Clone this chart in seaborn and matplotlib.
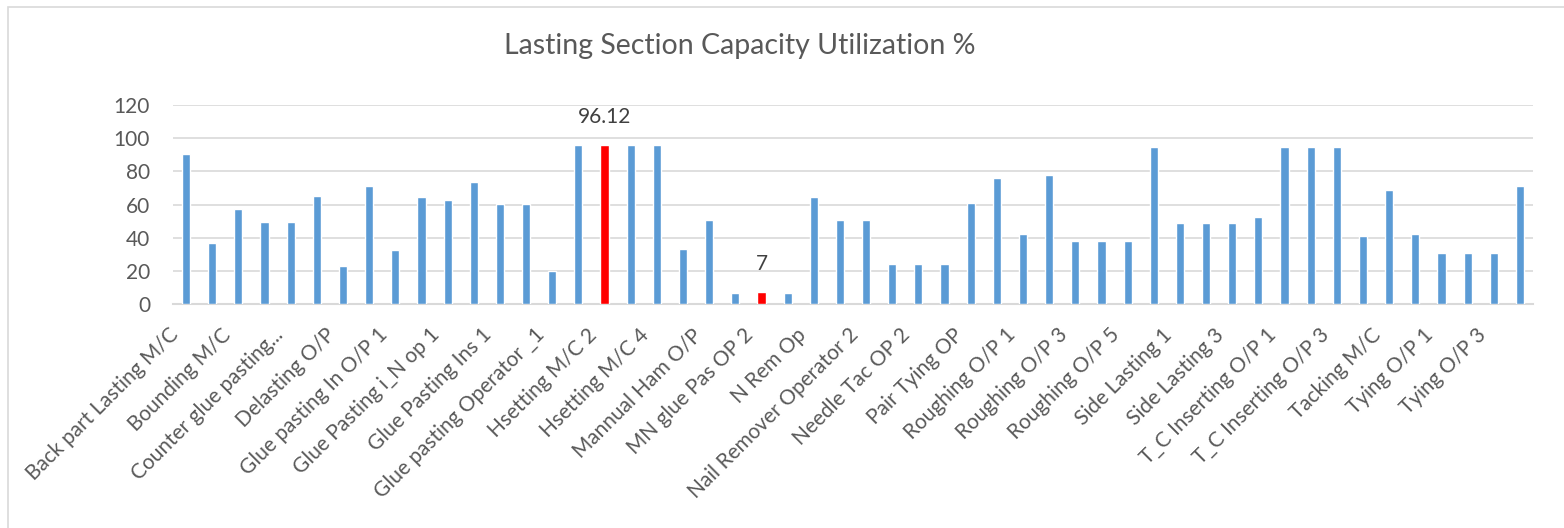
import matplotlib
matplotlib.use("Agg")
import matplotlib.pyplot as plt
import matplotlib.transforms as mtransforms
from matplotlib.patches import Rectangle
import pandas as pd
import seaborn as sns

# Lasting section work stations (alphabetical) and their capacity utilization (%)
stations = [
    "Back part Lasting M/C", "Back part Lasting O/P",
    "Bounding M/C", "Bounding O/P",
    "Counter glue pasting...", "Counter glue pasting O/P",
    "Delasting O/P", "Delasting O/P 2",
    "Glue pasting In O/P 1", "Glue pasting In O/P 2",
    "Glue Pasting i_N op 1", "Glue Pasting i_N op 2",
    "Glue Pasting Ins 1", "Glue Pasting Ins 2",
    "Glue pasting Operator _1", "Hsetting M/C 1",
    "Hsetting M/C 2", "Hsetting M/C 3",
    "Hsetting M/C 4", "Mannual Ham M/C",
    "Mannual Ham O/P", "MN glue Pas OP 1",
    "MN glue Pas OP 2", "MN glue Pas OP 3",
    "N Rem Op", "Nail Remover Operator 1",
    "Nail Remover Operator 2", "Needle Tac OP 1",
    "Needle Tac OP 2", "Needle Tac OP 3",
    "Pair Tying OP", "Pulling Over M/C",
    "Roughing O/P 1", "Roughing O/P 2",
    "Roughing O/P 3", "Roughing O/P 4",
    "Roughing O/P 5", "Scouring M/C",
    "Side Lasting 1", "Side Lasting 2",
    "Side Lasting 3", "Side Lasting 4",
    "T_C Inserting O/P 1", "T_C Inserting O/P 2",
    "T_C Inserting O/P 3", "T_C Inserting O/P 4",
    "Tacking M/C", "Tacking O/P",
    "Tying O/P 1", "Tying O/P 2",
    "Tying O/P 3", "Tying O/P 4",
]
utilization = [
    90.7, 36.5, 57.3, 49.4, 49.4, 65.1, 23.0, 71.0, 32.5, 64.5,
    62.9, 73.8, 60.1, 60.1, 19.6, 95.8, 96.12, 95.8, 96.0, 33.1,
    50.6, 6.7, 7, 6.7, 64.7, 50.4, 50.4, 24.2, 24.2, 24.2,
    60.9, 75.8, 42.3, 78.0, 38.1, 38.1, 38.1, 94.8, 48.8, 48.8,
    48.8, 52.2, 94.8, 94.6, 94.6, 41.3, 68.8, 42.1, 30.6, 30.6,
    30.6, 71.4,
]
highlighted = ["Hsetting M/C 2", "MN glue Pas OP 2"]
y_ticks = [0, 20, 40, 60, 80, 100, 120]

BLUE = "#5B9BD5"
RED = "#FF0000"
GRID = "#D9D9D9"
TEXT = "#595959"

sns.set_theme(style="white")
plt.rcParams["font.family"] = ["Lato", "DejaVu Sans"]

W, H = 1564, 528
fig = plt.figure(figsize=(W / 100, H / 100), dpi=100)
fig.patch.set_facecolor("white")

# chart-area frame
fig.patches.append(Rectangle((8 / W, -0.05), 1.2, 1 - 7 / H + 0.05,
                             transform=fig.transFigure, fill=False,
                             edgecolor=GRID, linewidth=1.2))

ax = fig.add_axes([173 / W, 1 - 304 / H, 1360 / W, 199 / H])

df = pd.DataFrame({"station": stations, "utilization": utilization})
palette = {s: (RED if s in highlighted else BLUE) for s in stations}
sns.barplot(data=df, x="station", y="utilization", hue="station",
            palette=palette, legend=False, width=0.31, saturation=1,
            ax=ax, zorder=3)

ax.set_xlim(-0.5, len(stations) - 0.5)
ax.set_ylim(0, 120)
ax.set_yticks(y_ticks)
ax.set_yticklabels([str(t) for t in y_ticks])
ax.yaxis.grid(True, color=GRID, linewidth=1.2, zorder=0)
ax.set_axisbelow(True)
for side in ("left", "right", "top"):
    ax.spines[side].set_visible(False)
ax.spines["bottom"].set_color(GRID)
ax.spines["bottom"].set_linewidth(1.5)
ax.set_xlabel("")
ax.set_ylabel("")

ax.tick_params(axis="y", length=0, pad=16.5, labelsize=15, labelcolor=TEXT)
ax.tick_params(axis="x", length=0, pad=20, labelsize=15, labelcolor=TEXT)

shown = list(range(0, len(stations), 2))
ax.set_xticks(shown)
ax.set_xticklabels([stations[i] for i in shown], rotation=45, ha="right",
                   va="center", rotation_mode="anchor")
shift = mtransforms.ScaledTranslation(-11 / 100, 0, fig.dpi_scale_trans)
for lbl in ax.get_xticklabels():
    lbl.set_transform(lbl.get_transform() + shift)

# value labels on the highlighted stations
for i, (s, v) in enumerate(zip(stations, utilization)):
    if s in highlighted:
        ax.annotate(f"{v:g}", (i, v), xytext=(0, 13), textcoords="offset points",
                    ha="center", va="bottom", fontsize=15, color="#404040")

fig.text(740 / W, 1 - 54 / H, "Lasting Section Capacity Utilization %",
         ha="center", va="baseline", fontsize=20.5, color=TEXT)

fig.savefig("out.png", dpi=100, facecolor="white")
